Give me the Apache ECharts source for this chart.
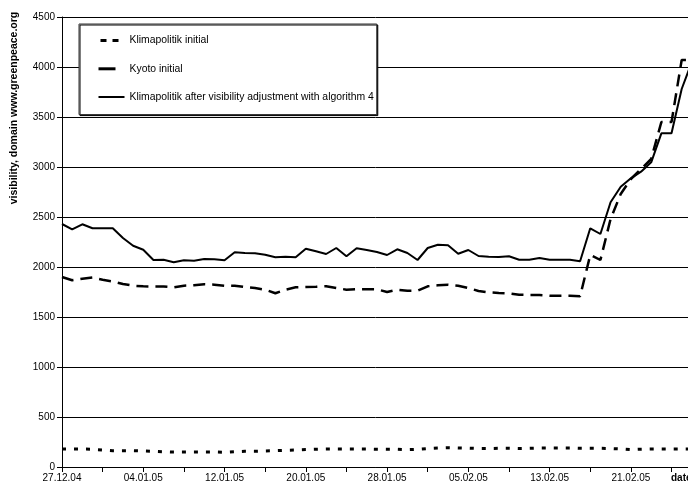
<!DOCTYPE html>
<html>
<head>
<meta charset="utf-8">
<title>Visibility, domain www.greenpeace.org</title>
<script src="https://cdn.jsdelivr.net/npm/echarts@6.0.0/dist/echarts.min.js"></script>
<style>
  html, body { margin: 0; padding: 0; background: #fff; }
  #chart { width: 688px; height: 489px; }
</style>
</head>
<body>
<div id="chart"></div>
<script>
// Daily observation dates (the axis runs one day past the last visible point)
const dates = [
  '27.12.04','28.12.04','29.12.04','30.12.04','31.12.04',
  '01.01.05','02.01.05','03.01.05','04.01.05','05.01.05','06.01.05','07.01.05','08.01.05','09.01.05','10.01.05',
  '11.01.05','12.01.05','13.01.05','14.01.05','15.01.05','16.01.05','17.01.05','18.01.05','19.01.05','20.01.05',
  '21.01.05','22.01.05','23.01.05','24.01.05','25.01.05','26.01.05','27.01.05','28.01.05','29.01.05','30.01.05','31.01.05',
  '01.02.05','02.02.05','03.02.05','04.02.05','05.02.05','06.02.05','07.02.05','08.02.05','09.02.05','10.02.05',
  '11.02.05','12.02.05','13.02.05','14.02.05','15.02.05','16.02.05','17.02.05','18.02.05','19.02.05','20.02.05',
  '21.02.05','22.02.05','23.02.05','24.02.05','25.02.05','26.02.05','27.02.05','28.02.05'
];

const klimapolitikInitial = [
  180, 180, 180, 177, 170, 163, 163, 163, 160, 157,
  153, 150, 150, 150, 150, 150, 147, 153, 157, 157,
  160, 163, 167, 170, 175, 178, 180, 180, 180, 180,
  180, 178, 177, 177, 173, 177, 185, 190, 193, 190,
  188, 185, 185, 187, 187, 185, 187, 190, 190, 190,
  190, 187, 187, 187, 185, 180, 173, 178, 180, 180,
  180, 180, 180
];

const kyotoInitial = [
  1900, 1867, 1883, 1895, 1872, 1855, 1830, 1813, 1807, 1805,
  1805, 1797, 1813, 1817, 1827, 1823, 1813, 1813, 1800, 1790,
  1773, 1737, 1773, 1797, 1800, 1803, 1807, 1790, 1773, 1777,
  1777, 1777, 1750, 1773, 1763, 1763, 1807, 1817, 1823, 1813,
  1790, 1760, 1747, 1740, 1737, 1723, 1720, 1720, 1713, 1713,
  1713, 1707, 2120, 2070, 2480, 2730, 2880, 2980, 3080, 3450,
  3450, 4070, 4070
];

const klimapolitikAdjusted = [
  2430, 2377, 2427, 2387, 2387, 2387, 2290, 2213, 2173, 2070,
  2073, 2047, 2067, 2063, 2080, 2077, 2067, 2147, 2140, 2137,
  2123, 2097, 2103, 2097, 2183, 2157, 2130, 2190, 2107, 2187,
  2170, 2150, 2120, 2177, 2140, 2070, 2190, 2223, 2217, 2133,
  2170, 2110, 2103, 2100, 2107, 2073, 2073, 2090, 2073, 2073,
  2073, 2057, 2387, 2330, 2647, 2803, 2887, 2953, 3047, 3337,
  3337, 3780, 4050
];

const yMin = 0, yMax = 4500, yStep = 500;

const FONT = "'Liberation Sans', Arial, Helvetica, sans-serif";

const chart = echarts.init(document.getElementById('chart'), null, { renderer: 'canvas' });

chart.setOption({
  animation: false,
  backgroundColor: '#ffffff',
  textStyle: { fontFamily: FONT, color: '#000' },
  // plot area runs past the right edge of the page
  grid: { left: 62, top: 17, width: 640, height: 450, containLabel: false, outerBoundsMode: 'none' },
  legend: {
    orient: 'vertical',
    left: 79,
    top: 24,
    itemWidth: 26,
    itemHeight: 14,
    itemGap: 17,
    padding: [11, 3, 12, 18],
    borderColor: '#333',
    borderWidth: 1,
    backgroundColor: '#fff',
    shadowColor: '#000',
    shadowOffsetX: 1,
    shadowOffsetY: 1,
    shadowBlur: 0,
    itemStyle: { opacity: 0 },
    textStyle: { fontFamily: FONT, fontSize: 10.4, color: '#000' },
    data: [
      { name: 'Klimapolitik initial', lineStyle: { type: [0, 2, 6, 6, 6, 30], width: 3 } },
      { name: 'Kyoto initial', lineStyle: { type: [17, 12], width: 3 } },
      { name: 'Klimapolitik after visibility adjustment with algorithm 4' }
    ]
  },
  xAxis: {
    type: 'category',
    data: dates,
    boundaryGap: false,
    axisLine: { show: true, lineStyle: { color: '#000', width: 1 } },
    axisTick: { show: true, interval: 3, length: 5, lineStyle: { color: '#000' } },
    axisLabel: { interval: 7, margin: 6, fontSize: 10, fontFamily: FONT, color: '#000' },
    splitLine: { show: false }
  },
  yAxis: {
    type: 'value',
    min: yMin,
    max: yMax,
    interval: yStep,
    axisLine: { show: true, lineStyle: { color: '#000', width: 1 } },
    axisTick: { show: true, length: 5, lineStyle: { color: '#000' } },
    axisLabel: {
      margin: 7, fontSize: 10, fontFamily: FONT, color: '#000',
      formatter: function (v) { return String(v); }
    },
    splitLine: { show: true, lineStyle: { color: '#000', width: 1 } }
  },
  graphic: [
    {
      type: 'text',
      x: 14,
      y: 108,
      rotation: Math.PI / 2,
      style: {
        text: 'visibility, domain www.greenpeace.org',
        fontFamily: FONT,
        fontSize: 10.5,
        fontWeight: 'bold',
        fill: '#000',
        align: 'center',
        verticalAlign: 'middle'
      }
    },
    {
      type: 'text',
      x: 671,
      y: 478,
      style: {
        text: 'date',
        fontFamily: FONT,
        fontSize: 10,
        fontWeight: 'bold',
        fill: '#000',
        align: 'left',
        verticalAlign: 'middle'
      }
    }
  ],
  series: [
    {
      name: 'Klimapolitik initial',
      type: 'line',
      data: klimapolitikInitial,
      symbol: 'none',
      lineStyle: { color: '#000', width: 3, type: [4, 8] },
      itemStyle: { color: '#000' }
    },
    {
      name: 'Kyoto initial',
      type: 'line',
      data: kyotoInitial,
      symbol: 'none',
      lineStyle: { color: '#000', width: 2.5, type: [12, 7] },
      itemStyle: { color: '#000' }
    },
    {
      name: 'Klimapolitik after visibility adjustment with algorithm 4',
      type: 'line',
      data: klimapolitikAdjusted,
      symbol: 'none',
      lineStyle: { color: '#000', width: 2 },
      itemStyle: { color: '#000' }
    }
  ]
});
</script>
</body>
</html>
